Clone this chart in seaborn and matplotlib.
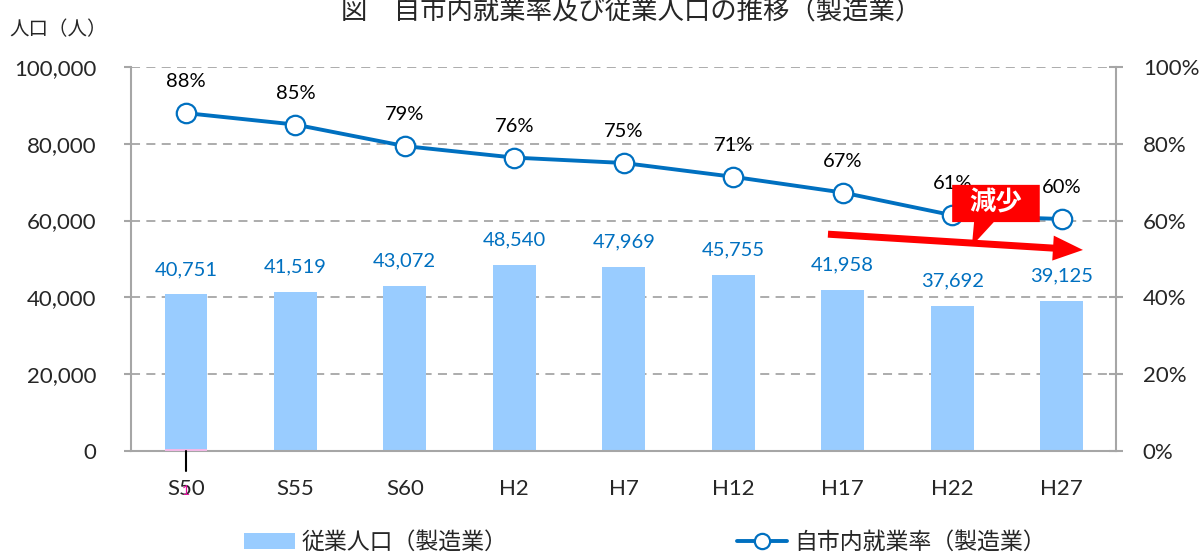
import numpy as np
import pandas as pd
import seaborn as sns
import matplotlib.pyplot as plt
from matplotlib.patches import Polygon, Patch, FancyArrowPatch
from matplotlib.lines import Line2D

# データ
years = ["S50", "S55", "S60", "H2", "H7", "H12", "H17", "H22", "H27"]
workers = [40751, 41519, 43072, 48540, 47969, 45755, 41958, 37692, 39125]
rate = [88.0, 85.0, 79.4, 76.4, 75.0, 71.4, 67.3, 61.4, 60.4]
rate_labels = ["88%", "85%", "79%", "76%", "75%", "71%", "67%", "61%", "60%"]
pink_strip = [600, 0, 0, 0, 0, 0, 0, 0, 0]

df = pd.DataFrame({"year": years, "workers": workers, "rate": rate, "pink": pink_strip})
df["pos"] = np.arange(len(years))

sns.set_style("white")
plt.rcParams['font.family'] = ['Noto Sans CJK JP', 'DejaVu Sans']
NUM = ['Lato', 'Noto Sans CJK JP']

BAR = "#99CCFF"
LINE = "#0070C0"
GRID = "#A6A6A6"

fig, ax = plt.subplots(figsize=(12.03, 5.56), dpi=100)
fig.subplots_adjust(left=0.109, right=0.928, top=0.8795, bottom=0.189)

sns.barplot(data=df, x="year", y="workers", color=BAR, width=0.39,
            saturation=1, linewidth=0, ax=ax, zorder=2)
sns.barplot(data=df, x="year", y="pink", color="#F2B8E6", width=0.39,
            saturation=1, linewidth=0, ax=ax, zorder=3)

ax.set_xlim(-0.5, 8.5)
ax.set_ylim(0, 100000)
ax.set_yticks(np.arange(0, 100001, 20000))
ax.set_yticklabels([f"{v:,}" for v in range(0, 100001, 20000)], fontsize=16, family=NUM)
for t in ax.get_xticklabels():
    t.set_fontsize(16)
    t.set_family(NUM)
ax.set_xlabel("")
ax.set_ylabel("")
ax.tick_params(axis="x", which="major", length=0, pad=20)
ax.set_xticks(np.arange(-0.5, 9, 1), minor=True)
ax.tick_params(axis="x", which="minor", length=8, color=GRID, width=1.5)
ax.tick_params(axis="y", length=5, color=GRID, width=1.5, pad=20)
for y in range(20000, 100001, 20000):
    ax.axhline(y, color=GRID, lw=1.3, ls=(0, (5, 3.5)), zorder=1)
for s in ["left", "bottom"]:
    ax.spines[s].set_color(GRID)
    ax.spines[s].set_linewidth(1.5)
for s in ["top", "right"]:
    ax.spines[s].set_visible(False)

for i, v in enumerate(workers):
    ax.text(i, v + 4300, f"{v:,}", ha="center", va="bottom",
            fontsize=14.5, color=LINE, family=NUM)
# S50 の下の小さな目盛りと「1」
ax.plot([0, 0], [0, -5200], color="black", lw=1.5, clip_on=False, zorder=4)
ax.text(0, -10500, "1", ha="center", va="center", fontsize=10, color="#E0119D",
        family=NUM)

ax2 = ax.twinx()
sns.lineplot(data=df, x="pos", y="rate", color=LINE, lw=2.8, marker="o",
             markersize=14, markerfacecolor="white", markeredgecolor=LINE,
             markeredgewidth=1.6, ax=ax2, zorder=5)
ax2.set_ylim(0, 100)
ax2.set_yticks(np.arange(0, 101, 20))
ax2.set_yticklabels([f"{v}%" for v in range(0, 101, 20)], fontsize=16, family=NUM)
ax2.set_xlabel("")
ax2.set_ylabel("")
ax2.tick_params(axis="y", direction="inout", length=10, color=GRID, width=1.5, pad=14)
for s in ["left", "bottom", "top"]:
    ax2.spines[s].set_visible(False)
ax2.spines["right"].set_color(GRID)
ax2.spines["right"].set_linewidth(1.5)
ax2.set_xlim(-0.5, 8.5)

for i, (r, lab) in enumerate(zip(rate, rate_labels)):
    ax2.text(i, r + 6.0, lab, ha="center", va="bottom", fontsize=14.5,
             color="black", family=NUM)

# 減少 の矢印と吹き出し
arrow = FancyArrowPatch((5.84, 56.5), (8.22, 52.3),
                        arrowstyle="simple,head_length=1.2,head_width=1.0,tail_width=0.28",
                        mutation_scale=18, color="#FF0000", lw=0, zorder=7)
ax2.add_patch(arrow)
callout = Polygon([(7.0, 69.3), (7.8, 69.3), (7.8, 59.6), (7.38, 59.6),
                   (7.18, 53.4), (7.2, 59.6), (7.0, 59.6)],
                  closed=True, facecolor="#FF0000", edgecolor="none", zorder=8)
ax2.add_patch(callout)
ax2.text(7.4, 64.6, "減少", ha="center", va="center", fontsize=19,
         fontweight="bold", color="white", zorder=9)

fig.text(0.525, 0.978, "図　自市内就業率及び従業人口の推移（製造業）",
         ha="center", va="center", fontsize=19)
fig.text(0.008, 0.947, "人口（人）", ha="left", va="center", fontsize=14)

handles = [Patch(facecolor=BAR, edgecolor="none"),
           Line2D([0], [0], color=LINE, lw=2.8, marker="o", markersize=11,
                  markerfacecolor="white", markeredgecolor=LINE, markeredgewidth=1.6)]
fig.legend(handles, ["従業人口（製造業）", "自市内就業率（製造業）"],
           loc="center", bbox_to_anchor=(0.536, 0.024), ncol=2, frameon=False,
           fontsize=16.5, columnspacing=10.0, handlelength=2.2, handletextpad=0.3)

fig.savefig("out.png", dpi=100)
